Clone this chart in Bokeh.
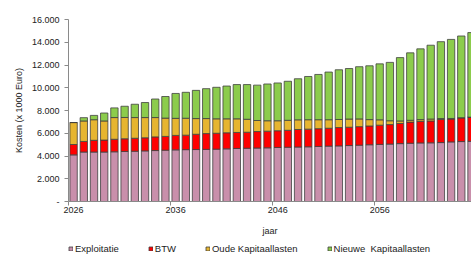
from bokeh.plotting import figure
from bokeh.layouts import column
from bokeh.models import ColumnDataSource, FixedTicker, Legend, LegendItem, Range1d
from bokeh.embed import file_html
from bokeh.resources import INLINE

years = list(range(2026, 2066))
exploitatie = [4100, 4350, 4350, 4350, 4370, 4400, 4420, 4450, 4480, 4510,
               4540, 4560, 4570, 4580, 4600, 4630, 4660, 4680, 4700, 4720,
               4750, 4770, 4790, 4810, 4840, 4870, 4890, 4920, 4950, 4990,
               5020, 5050, 5090, 5120, 5150, 5160, 5180, 5240, 5270, 5290]
btw = [910, 930, 1030, 1050, 1100, 1115, 1140, 1150, 1200, 1210,
       1270, 1270, 1340, 1390, 1400, 1410, 1410, 1410, 1450, 1460,
       1470, 1490, 1540, 1550, 1560, 1570, 1610, 1610, 1630, 1650,
       1690, 1710, 1770, 1860, 1900, 1920, 2030, 2010, 2080, 2130]
oude = [1930, 1800, 1810, 1680, 1910, 1870, 1820, 1780, 1700, 1610,
        1500, 1490, 1380, 1320, 1270, 1230, 1200, 1140, 970, 920,
        880, 880, 850, 830, 790, 750, 710, 720, 680, 560,
        470, 340, 220, 160, 150, 170, 80, 50, 20, 0]
nieuwe = [0, 290, 380, 700, 850, 990, 1170, 1320, 1630, 1900,
          2190, 2280, 2480, 2630, 2770, 2880, 3010, 3050, 3110, 3230,
          3320, 3430, 3610, 3800, 3980, 4190, 4370, 4440, 4590, 4730,
          4920, 5130, 5570, 5930, 6220, 6490, 6760, 6950, 7180, 7430]
series = ["exploitatie", "btw", "oude", "nieuwe"]
labels = ["Exploitatie", "BTW", "Oude Kapitaallasten", "Nieuwe  Kapitaallasten"]
colors = ["#c98fab", "#ff0000", "#e6b530", "#8ccc4c"]
y_ticks = list(range(0, 16001, 2000))
x_ticks = [2026, 2036, 2046, 2056]

src = ColumnDataSource(dict(year=years, exploitatie=exploitatie, btw=btw,
                            oude=oude, nieuwe=nieuwe))

FONT = "Liberation Sans"
TXT = "#222222"
AX = "#8a8a8a"
EDGE = "#404040"

p = figure(width=471, height=243, output_backend="svg", toolbar_location=None,
           x_range=Range1d(2025.5, 2065.0), y_range=Range1d(0, 16000),
           min_border_left=66, min_border_right=0, min_border_top=19,
           min_border_bottom=42)
p.outline_line_color = None
p.grid.visible = False
p.background_fill_color = "white"

rs = p.vbar_stack(series, x="year", width=0.72, source=src, color=colors,
                  line_color=EDGE, line_width=0.8)

# y axis
ya = p.yaxis[0]
ya.ticker = FixedTicker(ticks=y_ticks, minor_ticks=[])
ya.major_label_overrides = {t: ("-" if t == 0 else f"{t:,}".replace(",", ".")) for t in y_ticks}
ya.axis_label = "Kosten (x 1000 Euro)"
ya.axis_label_text_font = FONT
ya.axis_label_text_font_style = "normal"
ya.axis_label_text_font_size = "9px"
ya.axis_label_text_color = TXT
ya.axis_label_standoff = 5
ya.major_label_text_font = FONT
ya.major_label_text_font_size = "9px"
ya.major_label_text_color = TXT
ya.major_tick_out = 4
ya.major_tick_in = 0
ya.major_label_standoff = 5
ya.axis_line_color = AX
ya.major_tick_line_color = AX

# x axis
xa = p.xaxis[0]
xa.ticker = FixedTicker(ticks=x_ticks, minor_ticks=[t - 0.5 for t in x_ticks])
xa.axis_label = "jaar"
xa.axis_label_text_font = FONT
xa.axis_label_text_font_style = "normal"
xa.axis_label_text_font_size = "9px"
xa.axis_label_text_color = TXT
xa.axis_label_standoff = 10
xa.major_label_text_font = FONT
xa.major_label_text_font_size = "9px"
xa.major_label_text_color = TXT
xa.major_tick_line_color = None
xa.major_tick_out = 0
xa.major_tick_in = 0
xa.minor_tick_line_color = AX
xa.minor_tick_out = 4
xa.minor_tick_in = 0
xa.major_label_standoff = 1
xa.axis_line_color = AX

# legend strip below the chart (its bars lie outside its visible range)
lg = figure(width=471, height=12, output_backend="svg", toolbar_location=None,
            x_range=Range1d(0, 1), y_range=Range1d(0, 1),
            x_axis_location=None, y_axis_location=None,
            min_border_left=68, min_border_right=0, min_border_top=0,
            min_border_bottom=0)
lg.outline_line_color = None
lg.grid.visible = False
dummies = [lg.vbar(x="year", top=s, width=0.72, source=src, fill_color=c,
                   line_color=EDGE, line_width=0.8) for s, c in zip(series, colors)]
legend = Legend(items=[LegendItem(label=l, renderers=[r]) for l, r in zip(labels, dummies)],
                orientation="horizontal", location="top_left",
                label_text_font=FONT, label_text_font_size="9.5px",
                label_text_color=TXT, glyph_width=5, glyph_height=5,
                label_standoff=2, spacing=29, padding=1, margin=0,
                label_height=10, border_line_color=None,
                background_fill_alpha=0)
lg.add_layout(legend, "center")

open("out.html", "w").write(file_html(column(p, lg, spacing=0), INLINE))
